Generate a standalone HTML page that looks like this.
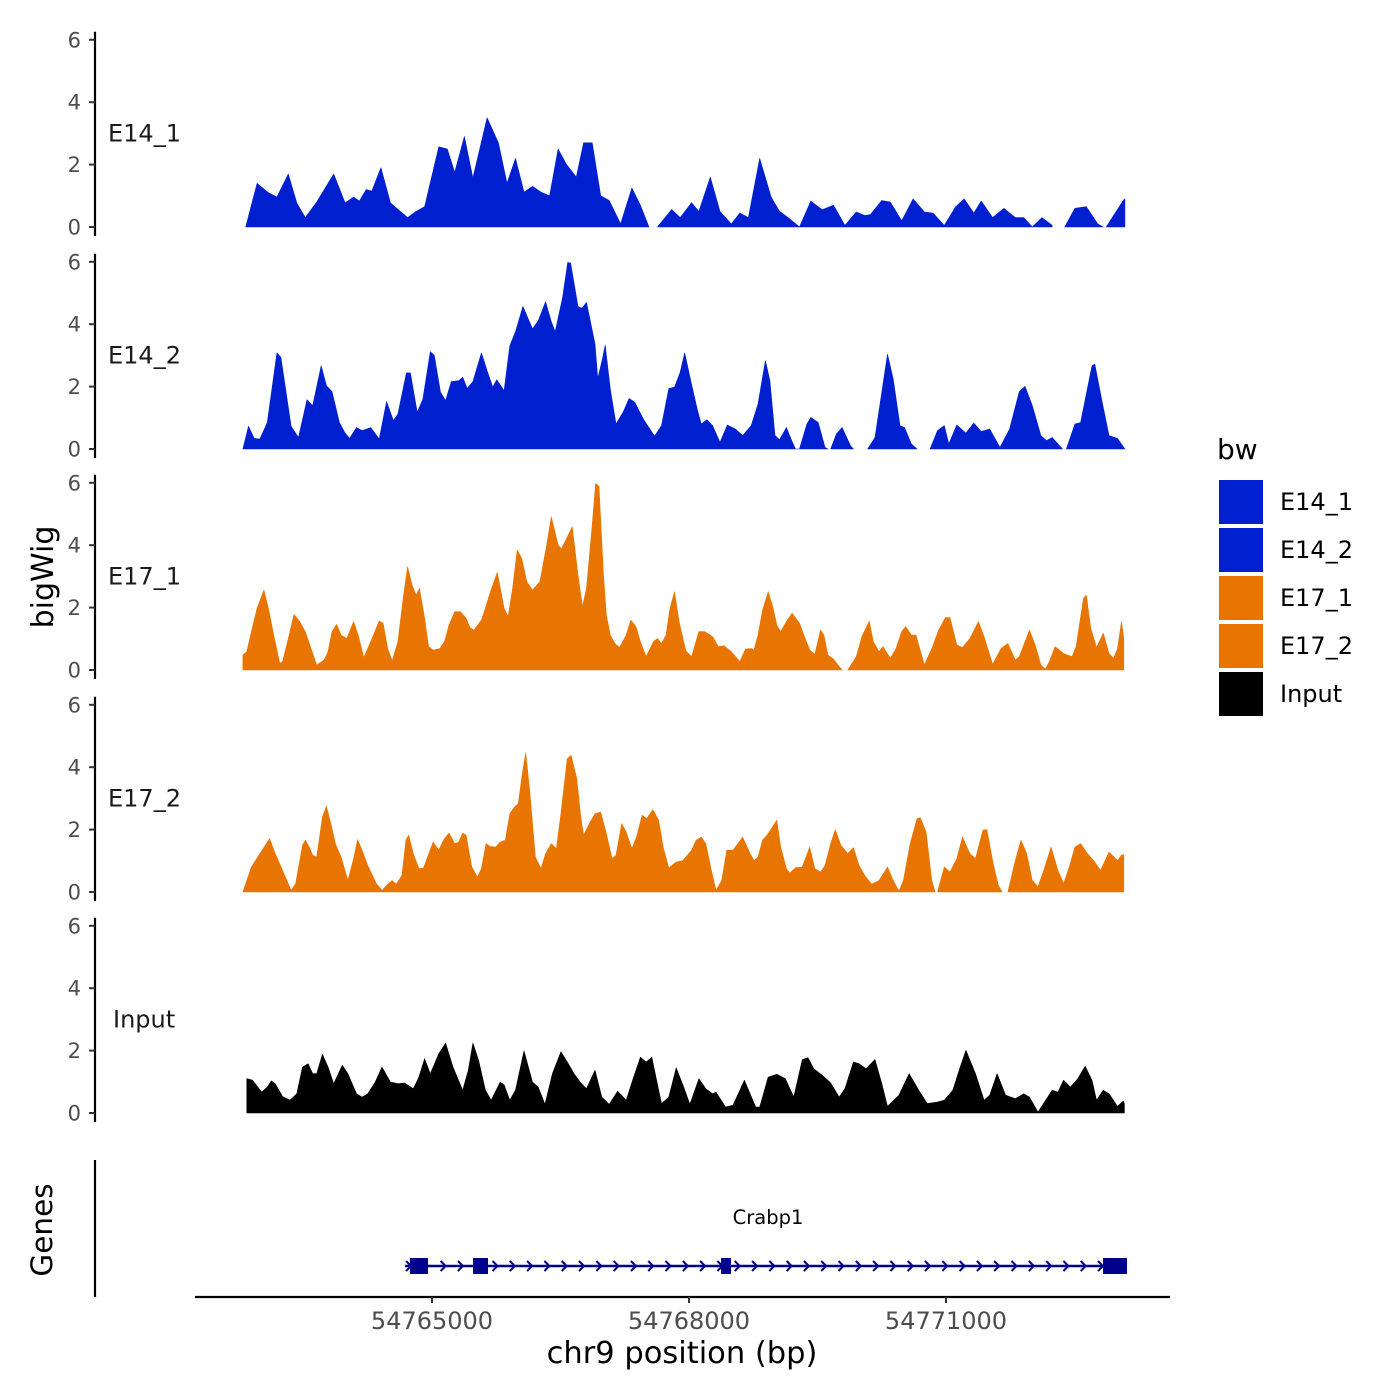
<!DOCTYPE html>
<html><head><meta charset="utf-8"><title>bigWig tracks</title>
<style>
html,body{margin:0;padding:0;background:#fff;}
svg{display:block;font-family:"DejaVu Sans","Liberation Sans",sans-serif;}
</style></head>
<body>
<svg id="chart" width="1400" height="1400" viewBox="0 0 1400 1400" xmlns="http://www.w3.org/2000/svg"></svg>
<script>
// ---- data ----
const regionStart = 54762759;   // bp at bin 0
const binWidth = 6.63;          // bp per coverage bin
const trackNames = ["E14_1","E14_2","E17_1","E17_2","Input"];
const trackColors = ["#0020D0","#0020D0","#E87502","#E87502","#000000"];
const yTicks = [0,2,4,6];
const xTicks = [54765000,54768000,54771000];
const xTickLabels = ["54765000","54768000","54771000"];
const geneName = "Crabp1";
const geneSpan = [54764685,54773113];
const geneExons = [[54764743,54764953],[54765479,54765654],[54768374,54768490],[54772833,54773113]];

const e14_1 = [[10,0],[30,1.4],[50,1.1],[65,0.96],[85,1.7],[100,0.77],[115,0.3],[135,0.8],[165,1.7],[185,0.77],[200,0.96],[210,0.83],[222,1.2],[232,1.15],[248,1.9],[265,0.77],[295,0.3],[310,0.5],[325,0.65],[350,2.57],[365,2.5],[378,1.75],[395,2.9],[410,1.57],[435,3.5],[455,2.7],[470,1.4],[485,2.2],[500,1.12],[515,1.3],[530,1.12],[545,1.0],[560,2.5],[575,2.0],[592,1.6],[605,2.7],[620,2.7],[635,1.0],[650,0.85],[670,0.1],[690,1.25],[705,0.7],[720,0],[728,null],[735,0],[760,0.56],[775,0.3],[795,0.78],[808,0.5],[828,1.6],[845,0.5],[865,0.1],[880,0.45],[895,0.3],[915,2.2],[935,0.96],[950,0.5],[965,0.3],[985,0],[1005,0.83],[1025,0.55],[1045,0.7],[1065,0.05],[1085,0.48],[1100,0.37],[1110,0.4],[1130,0.85],[1145,0.8],[1165,0.2],[1185,0.9],[1205,0.48],[1220,0.45],[1240,0.05],[1260,0.65],[1275,0.9],[1292,0.45],[1305,0.83],[1325,0.3],[1345,0.6],[1365,0.3],[1380,0.3],[1395,0],[1412,0.3],[1430,0.05],[1440,null],[1452,0],[1470,0.6],[1490,0.65],[1510,0.1],[1520,0],[1522,null],[1525,0],[1555,0.85],[1558,0.9]];

const e14_2 = [[5,0],[15,0.73],[25,0.34],[35,0.32],[48,0.85],[65,3.08],[72,2.94],[90,0.73],[103,0.37],[118,1.58],[128,1.39],[143,2.67],[152,2.03],[162,1.84],[175,0.85],[185,0.51],[193,0.34],[205,0.69],[215,0.59],[230,0.69],[245,0.32],[258,1.52],[270,0.91],[278,1.12],[293,2.44],[300,2.44],[312,1.18],[322,1.6],[335,3.12],[342,3.0],[353,1.82],[362,1.55],[372,2.16],[385,2.19],[392,2.3],[400,1.94],[410,2.16],[425,3.08],[435,2.51],[445,1.98],[452,2.22],[465,1.87],[475,3.31],[485,3.76],[498,4.57],[515,3.85],[525,4.11],[538,4.72],[548,4.08],[555,3.76],[568,4.86],[577,5.98],[582,5.96],[595,4.57],[602,4.51],[610,4.7],[625,3.37],[630,2.26],[638,2.88],[643,3.33],[652,1.92],[662,0.8],[675,1.2],[685,1.62],[695,1.5],[710,0.96],[730,0.41],[742,0.75],[755,1.94],[765,1.98],[775,2.46],[783,3.08],[793,2.24],[805,1.28],[812,0.8],[822,0.94],[832,0.75],[845,0.21],[858,0.77],[872,0.64],[885,0.43],[900,0.75],[912,1.44],[925,2.83],[933,2.19],[942,0.43],[950,0.3],[962,0.69],[970,0.32],[978,0],[985,0],[998,0.8],[1005,1.01],[1018,0.85],[1030,0.05],[1035,0],[1037,null],[1040,0],[1050,0.48],[1060,0.69],[1075,0.1],[1080,0],[1090,null],[1105,0],[1118,0.37],[1140,3.04],[1150,2.24],[1162,0.75],[1170,0.69],[1182,0.16],[1192,0],[1200,null],[1215,0],[1228,0.59],[1240,0.75],[1248,0.16],[1262,0.77],[1278,0.51],[1292,0.83],[1305,0.56],[1320,0.64],[1338,0.05],[1355,0.64],[1372,1.84],[1382,2.01],[1395,1.39],[1410,0.43],[1420,0.27],[1430,0.37],[1448,0],[1450,null],[1455,0],[1470,0.8],[1480,0.85],[1500,2.67],[1505,2.72],[1518,1.5],[1530,0.43],[1545,0.34],[1558,0]];

const e17_1 = [[5,0.48],[12,0.59],[20,1.23],[30,1.98],[42,2.56],[50,1.98],[58,1.23],[70,0.21],[75,0.27],[85,1.01],[95,1.78],[105,1.55],[115,1.23],[125,0.69],[135,0.16],[148,0.32],[155,0.59],[162,1.23],[170,1.46],[178,1.12],[188,1.01],[200,1.55],[208,1.12],[218,0.4],[230,0.91],[245,1.57],[252,1.5],[260,0.69],[268,0.29],[278,0.91],[288,2.4],[295,3.31],[303,2.72],[310,2.4],[316,2.62],[325,1.66],[332,0.75],[340,0.64],[352,0.69],[360,0.91],[368,1.44],[378,1.87],[388,1.87],[398,1.66],[405,1.36],[412,1.28],[425,1.6],[432,1.98],[440,2.46],[453,3.13],[465,1.98],[472,1.71],[480,2.62],[488,3.85],[496,3.58],[505,2.83],[515,2.56],[528,2.83],[540,4.01],[548,4.91],[560,4.01],[566,3.88],[575,4.22],[585,4.59],[595,3.04],[603,2.03],[610,2.62],[620,4.65],[626,5.98],[632,5.88],[640,3.04],[645,1.76],[652,1.12],[660,0.85],[668,0.72],[680,1.12],[688,1.6],[697,1.39],[705,0.91],[715,0.43],[728,0.91],[735,1.01],[742,0.85],[750,1.12],[757,1.98],[765,2.51],[773,1.55],[785,0.61],[795,0.43],[808,1.23],[818,1.23],[832,1.07],[842,0.75],[852,0.78],[865,0.59],[880,0.27],[890,0.67],[900,0.69],[905,0.64],[912,1.12],[920,1.92],[930,2.51],[938,2.03],[945,1.44],[952,1.23],[962,1.55],[972,1.82],[985,1.5],[995,1.01],[1003,0.64],[1012,0.5],[1022,1.28],[1028,1.12],[1035,0.48],[1045,0.35],[1055,0.11],[1060,0],[1065,null],[1070,0],[1085,0.43],[1095,1.07],[1108,1.57],[1115,0.91],[1125,0.59],[1132,0.75],[1145,0.37],[1155,0.69],[1165,1.23],[1172,1.39],[1182,1.12],[1190,1.12],[1205,0.16],[1218,0.69],[1230,1.28],[1242,1.68],[1250,1.68],[1262,0.8],[1272,0.72],[1285,1.01],[1300,1.55],[1310,1.07],[1325,0.18],[1340,0.69],[1352,0.85],[1365,0.32],[1372,0.43],[1390,1.28],[1400,0.8],[1410,0.16],[1418,0.03],[1425,0.27],[1435,0.75],[1450,0.53],[1465,0.43],[1472,0.75],[1485,2.3],[1490,2.4],[1498,1.34],[1508,0.72],[1520,1.18],[1530,0.53],[1538,0.37],[1545,0.69],[1552,1.55],[1556,1.0]];

const e17_2 = [[5,0],[12,0.37],[20,0.8],[35,1.23],[52,1.71],[62,1.23],[75,0.69],[90,0.05],[98,0.27],[110,1.5],[115,1.66],[122,1.44],[128,1.18],[135,1.12],[145,2.4],[152,2.75],[160,2.19],[168,1.55],[178,1.12],[190,0.37],[200,1.07],[207,1.68],[215,1.34],[225,0.85],[240,0.27],[250,0.05],[258,0.21],[268,0.37],[275,0.25],[285,0.53],[292,1.66],[297,1.82],[305,1.23],[315,0.75],[323,0.77],[330,1.12],[340,1.6],[350,1.34],[358,1.66],[368,1.89],[378,1.55],[385,1.6],[392,1.89],[398,1.82],[408,0.8],[418,0.48],[425,0.75],[433,1.55],[440,1.46],[450,1.44],[458,1.6],[467,1.66],[475,2.51],[483,2.72],[490,2.83],[497,3.79],[503,4.46],[510,3.26],[520,1.12],[530,0.75],[538,1.23],[548,1.55],[557,1.39],[565,2.51],[576,4.27],[583,4.38],[593,3.63],[600,2.4],[605,1.82],[615,2.19],[625,2.51],[635,2.56],[645,1.87],[655,1.07],[662,1.18],[672,2.19],[680,1.92],[690,1.39],[698,1.76],[708,2.46],[716,2.35],[727,2.64],[737,2.3],[745,1.44],[755,0.77],[768,0.96],[780,1.01],[795,1.34],[803,1.66],[812,1.76],[820,1.55],[830,0.69],[838,0.05],[848,0.37],[857,1.34],[868,1.34],[885,1.76],[898,1.23],[905,1.01],[912,1.12],[920,1.66],[930,1.87],[945,2.3],[952,1.44],[962,0.75],[968,0.61],[978,0.78],[990,0.8],[1003,1.44],[1012,0.75],[1022,0.64],[1030,0.85],[1040,1.55],[1048,2.0],[1058,1.5],[1070,1.23],[1080,1.42],[1090,0.85],[1100,0.53],[1112,0.25],[1125,0.37],[1140,0.8],[1150,0.37],[1160,0.03],[1168,0.37],[1180,1.55],[1192,2.35],[1198,2.38],[1208,1.92],[1218,0.37],[1224,0],[1226,null],[1228,0],[1240,0.8],[1250,0.64],[1262,1.07],[1272,1.76],[1285,1.23],[1295,1.07],[1308,1.98],[1315,2.0],[1325,1.01],[1335,0.21],[1342,0],[1347,null],[1352,0],[1365,1.01],[1375,1.66],[1385,1.23],[1395,0.37],[1405,0.16],[1415,0.69],[1428,1.44],[1440,0.69],[1450,0.27],[1460,0.8],[1470,1.44],[1480,1.55],[1492,1.23],[1505,0.96],[1515,0.69],[1530,1.28],[1545,1.01],[1552,1.18],[1556,1.2]];

const input = [[12,1.1],[22,1.05],[38,0.67],[48,0.83],[55,1.03],[62,0.94],[75,0.53],[88,0.41],[100,0.62],[110,1.47],[120,1.58],[128,1.26],[135,1.26],[145,1.88],[155,1.47],[165,0.94],[180,1.53],[190,1.26],[205,0.62],[215,0.51],[225,0.62],[238,0.99],[250,1.47],[265,0.99],[278,0.94],[290,0.96],[305,0.78],[315,1.15],[325,1.74],[335,1.26],[350,1.9],[362,2.24],[375,1.47],[392,0.73],[402,1.37],[410,2.24],[420,1.69],[432,0.73],[442,0.41],[458,0.99],[465,0.9],[475,0.41],[485,0.73],[500,1.99],[515,0.99],[525,0.83],[537,0.28],[550,1.26],[565,1.96],[578,1.58],[588,1.26],[600,0.96],[610,0.78],[625,1.37],[637,0.51],[650,0.28],[665,0.7],[680,0.41],[692,1.1],[705,1.79],[715,1.63],[725,1.79],[742,0.3],[755,0.51],[768,1.45],[780,0.89],[792,0.28],[808,1.1],[820,0.78],[832,0.62],[838,0.67],[855,0.19],[868,0.25],[888,1.05],[908,0.19],[915,0.19],[930,1.15],[945,1.24],[960,1.1],[975,0.51],[990,1.71],[1000,1.77],[1010,1.42],[1025,1.21],[1040,0.96],[1055,0.51],[1065,0.78],[1080,1.63],[1090,1.58],[1102,1.42],[1118,1.71],[1130,0.94],[1140,0.21],[1160,0.57],[1178,1.26],[1195,0.73],[1210,0.3],[1228,0.35],[1240,0.41],[1255,0.73],[1268,1.47],[1278,2.01],[1295,1.26],[1310,0.41],[1320,0.57],[1333,1.26],[1348,0.57],[1365,0.46],[1380,0.62],[1390,0.51],[1405,0.03],[1430,0.73],[1440,0.67],[1450,1.05],[1462,0.83],[1475,1.1],[1488,1.5],[1500,1.05],[1508,0.41],[1520,0.73],[1530,0.62],[1545,0.21],[1555,0.38],[1557,0.3]];

const trackData = [e14_1, e14_2, e17_1, e17_2, input];

// ---- layout ----
const NS = "http://www.w3.org/2000/svg";
const svg = document.getElementById("chart");
const panelBase = [227, 449, 670, 892, 1113];
const pxPerUnit = 31.2;
const xScale = bp => 432 + (bp - 54765000) * 257 / 3000;
const binToBp = b => regionStart + b * binWidth;
const yScale = (i, v) => panelBase[i] - v * pxPerUnit;

function mk(tag, attrs, parent) {
  const el = document.createElementNS(NS, tag);
  for (const k in attrs) el.setAttribute(k, attrs[k]);
  (parent || svg).appendChild(el);
  return el;
}

trackData.forEach((data, i) => {
  const g = mk("g", {});
  
  
  const ax = mk("line", {x1:95, x2:95, y1:yScale(i,6)-8, y2:panelBase[i]+9, stroke:"#000", "stroke-width":2.2}, g);
  
  
  yTicks.forEach(t => {
    const y = yScale(i, t);
    const tk = mk("line", {x1:89, x2:95, y1:y, y2:y, stroke:"#333", "stroke-width":2}, g);
    
    
    const tl = mk("text", {x:81, y:y+7.5, "text-anchor":"end", "font-size":21, fill:"#4d4d4d"}, g);
    tl.textContent = t;
    
    
  });
  const lab = mk("text", {x: i===4 ? 113 : 108, y: yScale(i,3)+8, "font-size":24, fill:"#1a1a1a"}, g);
  lab.textContent = trackNames[i];
  
  
  let segs = [], cur = [];
  data.forEach(p => {
    if (p[1] === null) { if (cur.length) segs.push(cur); cur = []; }
    else cur.push(p);
  });
  if (cur.length) segs.push(cur);
  segs.forEach(seg => {
    const x0 = xScale(binToBp(seg[0][0])), x1 = xScale(binToBp(seg[seg.length-1][0]));
    let d = "M" + x0.toFixed(1) + "," + panelBase[i];
    seg.forEach(p => { d += "L" + xScale(binToBp(p[0])).toFixed(1) + "," + yScale(i, p[1]).toFixed(1); });
    d += "L" + x1.toFixed(1) + "," + panelBase[i] + "Z";
    const a = mk("path", {d: d, fill: trackColors[i], stroke: trackColors[i], "stroke-width":0.6, "stroke-linejoin":"round"}, g);
    
    
  });
});

const yt = mk("text", {x:0, y:0, transform:"translate(53,577) rotate(-90)", "text-anchor":"middle", "font-size":30, fill:"#000"});
yt.textContent = "bigWig";



const gg = mk("g", {});


const gax = mk("line", {x1:95, x2:95, y1:1160, y2:1297, stroke:"#000", "stroke-width":2.2}, gg);


const gt = mk("text", {x:0, y:0, transform:"translate(52,1230) rotate(-90)", "text-anchor":"middle", "font-size":29.5, fill:"#000"}, gg);
gt.textContent = "Genes";


const gy = 1266;
const gs = xScale(geneSpan[0]), ge = xScale(geneSpan[1]);
const gl = mk("line", {x1:gs, x2:ge, y1:gy, y2:gy, stroke:"#00008B", "stroke-width":2.5}, gg);


for (let x = gs + 4; x < ge - 4; x += 17.3) {
  const ch = mk("path", {d:`M${x-3},${gy-5}L${x+2},${gy}L${x-3},${gy+5}`, fill:"none", stroke:"#00008B", "stroke-width":2}, gg);
  
  
}
geneExons.forEach(e => {
  const r = mk("rect", {x:xScale(e[0]), y:gy-8, width:xScale(e[1])-xScale(e[0]), height:16, fill:"#00008B"}, gg);
  
  
});
const gn = mk("text", {x:768, y:1224, "text-anchor":"middle", "font-size":19.5, fill:"#000"}, gg);
gn.textContent = geneName;



const xa = mk("line", {x1:195, x2:1170, y1:1297, y2:1297, stroke:"#000", "stroke-width":2.2});


xTicks.forEach((t, k) => {
  const x = xScale(t);
  const tk = mk("line", {x1:x, x2:x, y1:1297, y2:1303, stroke:"#333", "stroke-width":2});
  
  
  const tl = mk("text", {x:x, y:1329, "text-anchor":"middle", "font-size":24, fill:"#4d4d4d"});
  tl.textContent = xTickLabels[k];
  
  
});
const xt = mk("text", {x:682, y:1363, "text-anchor":"middle", "font-size":30.5, fill:"#000"});
xt.textContent = "chr9 position (bp)";



const lg = mk("g", {});


const ltitle = mk("text", {x:1217, y:459, "font-size":28, fill:"#000"}, lg);
ltitle.textContent = "bw";


trackNames.forEach((n, k) => {
  const y = 480 + k * 48;
  const r = mk("rect", {x:1219, y:y, width:44, height:44, fill:trackColors[k]}, lg);
  
  
  const t = mk("text", {x:1280, y:y+30, "font-size":24, fill:"#000"}, lg);
  t.textContent = n;
  
  
});
</script>
</body></html>
